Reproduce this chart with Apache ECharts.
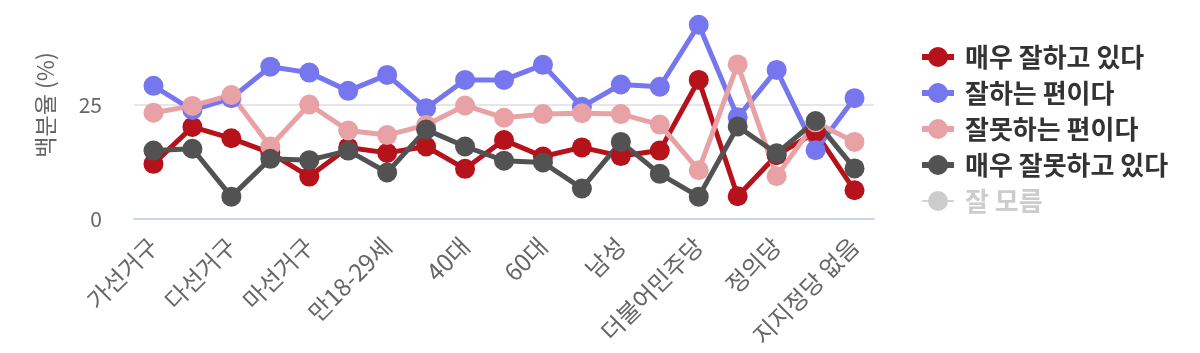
<!DOCTYPE html>
<html>
<head>
<meta charset="utf-8">
<script src="https://cdn.jsdelivr.net/npm/echarts@6/dist/echarts.min.js"></script>
<style>
  html, body { margin: 0; padding: 0; background: #fff; }
  #main { width: 1200px; height: 353px; }
</style>
</head>
<body>
<div id="main"></div>
<script>
// 응답자 구분
var categories = [
  "가선거구", "나선거구", "다선거구", "라선거구", "마선거구", "바선거구",
  "만18-29세", "30대", "40대", "50대", "60대", "70세 이상",
  "남성", "여성", "더불어민주당", "국민의힘", "정의당", "기타 정당", "지지정당 없음"
];

// 응답 비율 (%)
var veryGood = [12.1, 20.2, 17.7, 14.5, 9.3, 15.7, 14.5, 15.9, 11.0, 17.3, 13.7, 15.7, 13.8, 15.0, 30.5, 5.0, 14.0, 19.0, 6.3];
var good = [29.2, 23.9, 26.5, 33.4, 32.1, 28.1, 31.6, 24.3, 30.5, 30.5, 33.8, 24.6, 29.5, 29.0, 42.6, 22.3, 32.7, 15.1, 26.5];
var bad = [23.3, 24.8, 27.2, 15.9, 25.1, 19.4, 18.4, 20.6, 24.9, 22.2, 23.0, 23.2, 23.0, 20.7, 10.7, 33.9, 9.4, 21.2, 16.9];
var veryBad = [15.0, 15.4, 4.9, 13.2, 12.9, 15.0, 10.2, 19.6, 15.9, 12.8, 12.4, 6.7, 16.9, 9.9, 4.9, 20.3, 14.4, 21.5, 11.1];
var unknown = [20.4, 15.7, 23.7, 23.0, 20.6, 21.8, 25.3, 19.6, 17.7, 17.2, 17.1, 29.8, 16.8, 25.4, 11.3, 18.5, 29.5, 23.2, 39.2];

// y축 눈금 (50은 화면 밖)
var yTicks = [0, 25, 50];

var font = "'Noto Sans CJK KR', 'Noto Sans', sans-serif";

function lineSeries(name, data, color) {
  return {
    name: name,
    type: "line",
    data: data,
    symbol: "circle",
    symbolSize: 20,
    lineStyle: { width: 5, color: color },
    itemStyle: { color: color },
    emphasis: { disabled: true }
  };
}

var chart = echarts.init(document.getElementById("main"));
chart.setOption({
  animation: false,
  textStyle: { fontFamily: font },
  grid: { left: 134, right: 326, top: -9, height: 228, outerBoundsMode: "none", containLabel: false },
  legend: {
    orient: "vertical",
    left: 914,
    top: 39,
    itemWidth: 32,
    itemHeight: 25,
    itemGap: 10,
    lineStyle: { width: 6 },
    inactiveColor: "#cccccc",
    selected: { "잘 모름": false },
    textStyle: { fontSize: 26, fontWeight: "bold", color: "#333333", fontFamily: font, padding: [0, 0, 0, 6] }
  },
  xAxis: {
    type: "category",
    data: categories,
    boundaryGap: true,
    axisLine: { lineStyle: { color: "#ccd6eb", width: 2 } },
    axisTick: { show: false },
    axisLabel: {
      interval: 1,
      rotate: 45,
      margin: 23,
      fontSize: 24,
      color: "#666666",
      fontFamily: font
    }
  },
  yAxis: {
    type: "value",
    min: yTicks[0],
    max: yTicks[yTicks.length - 1],
    interval: 25,
    name: "백분율 (%)",
    nameLocation: "middle",
    nameRotate: 90,
    nameGap: 77,
    nameTextStyle: { fontSize: 23, color: "#666666", fontFamily: font },
    axisLabel: { fontSize: 21, color: "#666666", margin: 32, fontFamily: font },
    splitLine: { lineStyle: { color: "#e6e6e6", width: 2 } }
  },
  series: [
    lineSeries("매우 잘하고 있다", veryGood, "#b5121b"),
    lineSeries("잘하는 편이다", good, "#7676ee"),
    lineSeries("잘못하는 편이다", bad, "#e8a2a6"),
    lineSeries("매우 잘못하고 있다", veryBad, "#525252"),
    lineSeries("잘 모름", unknown, "#cccccc")
  ]
});
</script>
</body>
</html>
